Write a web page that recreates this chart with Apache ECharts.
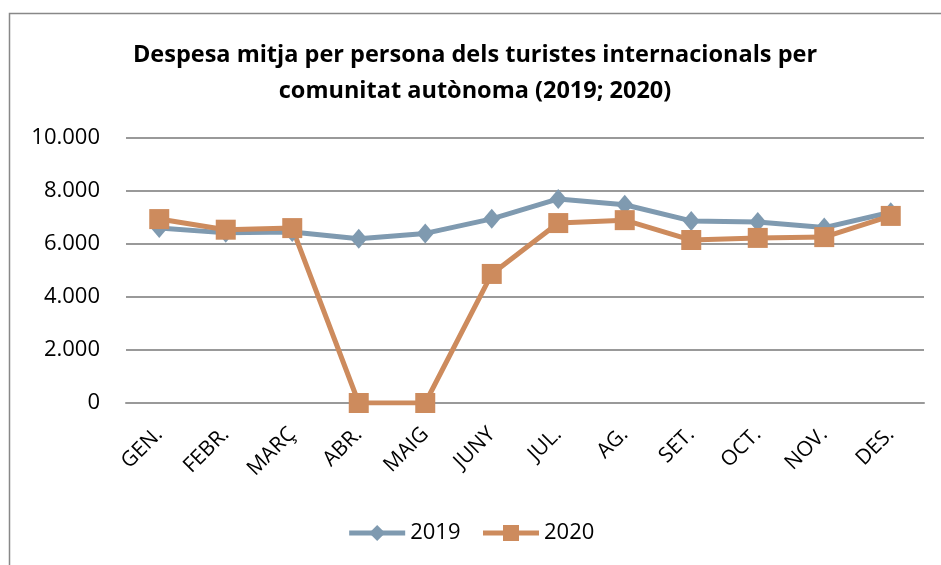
<!DOCTYPE html>
<html>
<head>
<meta charset="utf-8">
<script src="https://cdn.jsdelivr.net/npm/echarts@6/dist/echarts.min.js"></script>
<style>
  html, body { margin: 0; padding: 0; background: #fff; }
  #line_chart { width: 941px; height: 565px; }
</style>
</head>
<body>
<div id="line_chart"></div>
<script>
var months = ['GEN.', 'FEBR.', 'MARÇ', 'ABR.', 'MAIG', 'JUNY', 'JUL.', 'AG.', 'SET.', 'OCT.', 'NOV.', 'DES.'];
var values2019 = [6600, 6420, 6450, 6200, 6400, 6950, 7700, 7480, 6870, 6830, 6620, 7200];
var values2020 = [6940, 6540, 6600, 0, 0, 4870, 6790, 6900, 6150, 6230, 6260, 7060];
var yTicks = [0, 2000, 4000, 6000, 8000, 10000];

var line_dom = document.getElementById('line_chart');
var lineChart = echarts.init(line_dom, null, { renderer: 'canvas' });

var fmt = function (v) {
  return String(v).replace(/\B(?=(\d{3})+(?!\d))/g, '.');
};

var option = {
  animation: false,
  textStyle: { fontFamily: 'Open Sans' },
  graphic: [{
    type: 'rect',
    shape: { x: 9.5, y: 13.5, width: 1000, height: 1000 },
    style: { fill: 'none', stroke: '#888888', lineWidth: 1.5 },
    silent: true
  }],
  title: {
    text: 'Despesa mitja per persona dels turistes internacionals per\ncomunitat autònoma (2019; 2020)',
    left: 470,
    textAlign: 'center',
    top: 32,
    textStyle: {
      fontFamily: 'Open Sans',
      fontWeight: 'bold',
      fontSize: 23.5,
      lineHeight: 36,
      color: '#000'
    }
  },
  legend: {
    bottom: 16,
    left: 'center',
    itemWidth: 56,
    itemHeight: 20,
    itemGap: 20,
    lineStyle: { width: 5 },
    textStyle: { fontSize: 22, color: '#000', fontFamily: 'Open Sans' },
    data: ['2019', '2020']
  },
  grid: {
    left: 126,
    right: 17,
    top: 138,
    bottom: 162,
    containLabel: false
  },
  xAxis: {
    type: 'category',
    data: months,
    axisLine: { lineStyle: { color: '#999999', width: 2 } },
    axisTick: { show: false },
    axisLabel: {
      interval: 0,
      rotate: 45,
      fontSize: 21,
      color: '#000',
      margin: 28
    }
  },
  yAxis: {
    type: 'value',
    min: yTicks[0],
    max: yTicks[yTicks.length - 1],
    interval: 2000,
    axisLine: { show: false },
    axisTick: { show: false },
    axisLabel: {
      fontSize: 22,
      color: '#000',
      margin: 26,
      formatter: fmt
    },
    splitLine: { lineStyle: { color: '#999999', width: 2 } }
  },
  series: [{
    name: '2019',
    type: 'line',
    data: values2019,
    symbol: 'diamond',
    symbolSize: [17, 20],
    lineStyle: { color: '#7f9ab0', width: 5 },
    itemStyle: { color: '#7f9ab0' }
  }, {
    name: '2020',
    type: 'line',
    data: values2020,
    symbol: 'rect',
    symbolSize: 20,
    lineStyle: { color: '#cd8b5d', width: 5 },
    itemStyle: { color: '#cd8b5d' }
  }]
};

lineChart.setOption(option);
window.addEventListener('resize', lineChart.resize);
</script>
</body>
</html>
